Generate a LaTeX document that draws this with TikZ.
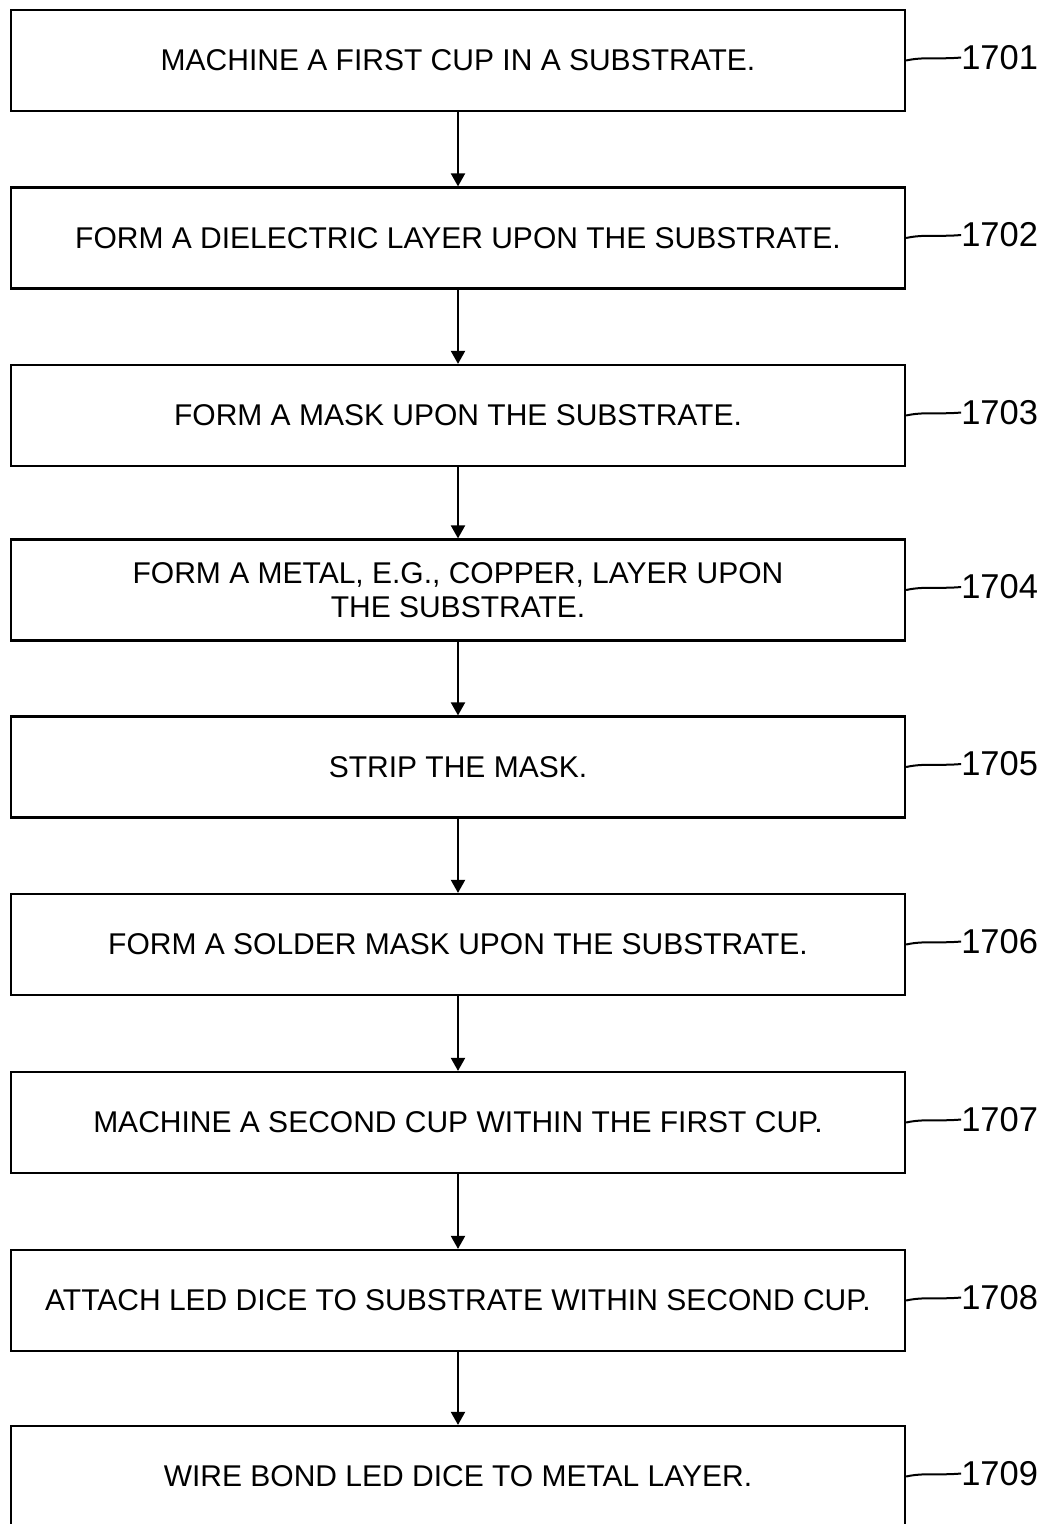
\documentclass[tikz,border=0pt]{standalone}
\usepackage{fontspec}
\setmainfont{Liberation Sans}
\usetikzlibrary{arrows.meta}
\begin{document}
\begin{tikzpicture}[x=1pt,y=-1pt,
  stepbox/.style={draw, line width=2.2pt, minimum width=894pt, minimum height=101pt, align=center, inner sep=0pt, font=\fontsize{30}{34}\selectfont},
  reflabel/.style={anchor=west, inner sep=0pt, font=\fontsize{34.5}{40}\selectfont},
  flow/.style={line width=2pt, -{Triangle[length=13pt,width=14pt]}},
  leader/.style={line width=2pt}]
\clip (0,0) rectangle (1042,1524);
\node[stepbox] (b1) at (458,60.5) {MACHINE A FIRST CUP IN A SUBSTRATE.};
\node[stepbox] (b2) at (458,238) {FORM A DIELECTRIC LAYER UPON THE SUBSTRATE.};
\node[stepbox] (b3) at (458,415.5) {FORM A MASK UPON THE SUBSTRATE.};
\node[stepbox] (b4) at (458,590) {FORM A METAL, E.G., COPPER, LAYER UPON\\THE SUBSTRATE.};
\node[stepbox] (b5) at (458,767) {STRIP THE MASK.};
\node[stepbox] (b6) at (458,944.5) {FORM A SOLDER MASK UPON THE SUBSTRATE.};
\node[stepbox] (b7) at (458,1122.5) {MACHINE A SECOND CUP WITHIN THE FIRST CUP.};
\node[stepbox] (b8) at (458,1300.5) {ATTACH LED DICE TO SUBSTRATE WITHIN SECOND CUP.};
\node[stepbox] (b9) at (458,1476.5) {WIRE BOND LED DICE TO METAL LAYER.};
\foreach \i/\j in {1/2,2/3,3/4,4/5,5/6,6/7,7/8,8/9}
  \draw[flow] (b\i.south) -- (b\j.north);
\foreach \i in {1,...,9} {
  \path (b\i.east) ++(55,-3) node[reflabel] (l\i) {170\i};
  \draw[leader] (b\i.east) .. controls +(18,-4) and +(-22,2) .. (l\i.west);
}
\end{tikzpicture}
\end{document}
